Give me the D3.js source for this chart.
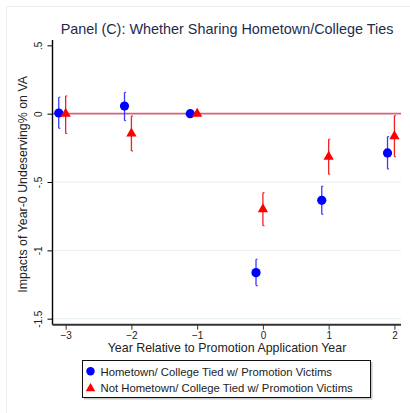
<!DOCTYPE html>
<html>
<head>
<meta charset="utf-8">
<script src="https://cdn.jsdelivr.net/npm/d3@7"></script>
<style>
  html, body { margin: 0; padding: 0; background: #fff; }
  svg { display: block; font-family: "Liberation Sans", Arial, Helvetica, sans-serif; }
</style>
</head>
<body>
<svg id="chart" width="410" height="413"></svg>
<script>
// Event-study estimates by year relative to the promotion application year
const years = [-3, -2, -1, 0, 1, 2];

// Hometown/college tied with promotion victims
const tiedEst   = [0.005, 0.056, 0.0, -1.163, -0.634, -0.287];
const tiedLo    = [-0.107, -0.051, null, -1.258, -0.736, -0.405];
const tiedHi    = [0.120, 0.156, null, -1.065, -0.531, -0.168];

// Not hometown/college tied with promotion victims
const notEst    = [0.0, -0.145, 0.0, -0.699, -0.315, -0.165];
const notLo     = [-0.145, -0.273, null, -0.820, -0.443, -0.315];
const notHi     = [0.130, -0.017, null, -0.578, -0.187, -0.015];

const xTicks = [-3, -2, -1, 0, 1, 2];
const yTicks = [0.5, 0, -0.5, -1, -1.5];
const yTickLabels = [".5", "0", "-.5", "-1", "-1.5"];
const gridValues = [-0.5, -1, -1.5];

const titleText = "Panel (C): Whether Sharing Hometown/College Ties";
const xTitle = "Year Relative to Promotion Application Year";
const yTitle = "Impacts of Year-0 Undeserving% on VA";
const legendLabels = [
  "Hometown/ College Tied w/ Promotion Victims",
  "Not Hometown/ College Tied w/ Promotion Victims"
];

const svg = d3.select("#chart");
const plot = { left: 52.5, right: 401, top: 40, bottom: 324.7 };

const x = d3.scaleLinear().domain([-3.2, 2.1]).range([plot.left, plot.right]);
const y = d3.scaleLinear().domain([0.539, -1.544]).range([plot.top, plot.bottom]);

// outer frame
svg.append("rect")
  .attr("x", 6.5).attr("y", 6.5).attr("width", 420).attr("height", 420)
  .attr("fill", "#fff").attr("stroke", "#e9f0f0").attr("stroke-width", 1);

// horizontal gridlines
svg.append("g").selectAll("line").data(gridValues).join("line")
  .attr("x1", plot.left).attr("x2", plot.right)
  .attr("y1", d => y(d)).attr("y2", d => y(d))
  .attr("stroke", "#e6eeee").attr("stroke-width", 1);

// reference line at zero
svg.append("line")
  .attr("x1", plot.left).attr("x2", plot.right)
  .attr("y1", y(0)).attr("y2", y(0))
  .attr("stroke", "#d9607c").attr("stroke-width", 1.6);

// y axis
const yAxis = d3.axisLeft(y).tickValues(yTicks)
  .tickFormat((d, i) => yTickLabels[i]).tickSize(5).tickPadding(3);
const gy = svg.append("g").attr("transform", `translate(${plot.left},0)`).call(yAxis);
gy.select(".domain").attr("d", `M0,${plot.top}V${plot.bottom}`).attr("stroke", "#000").attr("stroke-width", 1.4);
gy.selectAll(".tick line").attr("stroke", "#000");
gy.selectAll(".tick text")
  .attr("font-size", 10).attr("fill", "#222")
  .attr("text-anchor", "middle")
  .attr("dy", "0")
  .attr("transform", "translate(-11,0) rotate(-90)")
  .attr("x", 0).attr("y", 0);

// x axis
const xAxis = d3.axisBottom(x).tickValues(xTicks).tickFormat(d3.format("d")).tickSize(5).tickPadding(2);
const gx = svg.append("g").attr("transform", `translate(0,${plot.bottom})`).call(xAxis);
gx.select(".domain").attr("d", `M${plot.left},0H${plot.right}`).attr("stroke", "#333").attr("stroke-width", 2);
gx.selectAll(".tick line").attr("stroke", "#333");
gx.selectAll(".tick text").attr("font-size", 10).attr("fill", "#222");

// titles
svg.append("text").attr("x", 227).attr("y", 33.5).attr("text-anchor", "middle")
  .attr("font-size", 14.4).attr("fill", "#1e2b4d").text(titleText);
svg.append("text").attr("x", 227).attr("y", 352).attr("text-anchor", "middle")
  .attr("font-size", 12.4).attr("fill", "#222").text(xTitle);
svg.append("text").attr("transform", `translate(27,${(plot.top + plot.bottom) / 2 + 2}) rotate(-90)`)
  .attr("text-anchor", "middle").attr("font-size", 12.4).attr("fill", "#222").text(yTitle);

const blue = "#0000ff", blueCI = "#3a3aff", red = "#ff0000", redCI = "#f42020";
const offset = -0.105;

function drawCI(g, xs, lo, hi, color, dx) {
  xs.forEach((yr, i) => {
    if (lo[i] == null) return;
    const cx = x(yr + dx);
    g.append("line").attr("x1", cx).attr("x2", cx).attr("y1", y(hi[i])).attr("y2", y(lo[i]))
      .attr("stroke", color).attr("stroke-width", 1.3);
    [lo[i], hi[i]].forEach(v => {
      g.append("line").attr("x1", cx).attr("x2", cx + 1.6).attr("y1", y(v)).attr("y2", y(v))
        .attr("stroke", color).attr("stroke-width", 1.1);
    });
  });
}

const gMarks = svg.append("g");
drawCI(gMarks, years, tiedLo, tiedHi, blueCI, offset);
drawCI(gMarks, years, notLo, notHi, redCI, 0);

const triangle = d3.symbol().type(d3.symbolTriangle).size(46);

gMarks.selectAll("circle.tied").data(years).join("circle")
  .attr("class", "tied")
  .attr("cx", d => x(d + offset)).attr("cy", (d, i) => y(tiedEst[i]))
  .attr("r", 4.6).attr("fill", blue);

gMarks.selectAll("path.not").data(years).join("path")
  .attr("class", "not")
  .attr("d", triangle)
  .attr("transform", (d, i) => `translate(${x(d)},${y(notEst[i])})`)
  .attr("fill", red);

// legend
const lg = svg.append("g");
lg.append("rect").attr("x", 84).attr("y", 362).attr("width", 288.5).attr("height", 37.5).attr("fill", "#c8c8c8");
lg.append("rect").attr("x", 82.5).attr("y", 360.5).attr("width", 288).attr("height", 37).attr("fill", "#fff")
  .attr("stroke", "#111").attr("stroke-width", 1);
lg.append("circle").attr("cx", 90.5).attr("cy", 371.3).attr("r", 4.2).attr("fill", blue);
lg.append("path").attr("d", d3.symbol().type(d3.symbolTriangle).size(40))
  .attr("transform", "translate(90.5,388.5)").attr("fill", red);
legendLabels.forEach((t, i) => {
  lg.append("text").attr("x", 100.5).attr("y", 375.5 + i * 16.6)
    .attr("font-size", 11.3).attr("fill", "#222").text(t);
});
</script>
</body>
</html>
